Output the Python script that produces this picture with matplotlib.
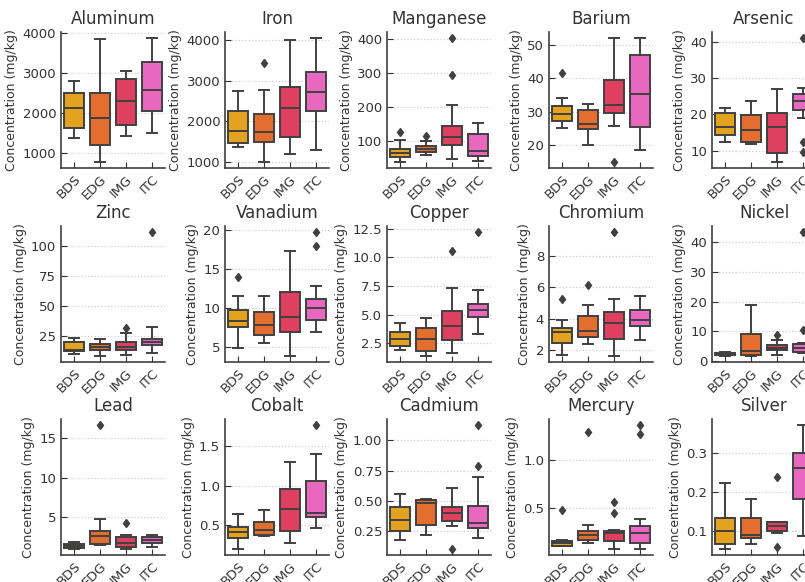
import matplotlib
matplotlib.use("Agg")
import matplotlib.pyplot as plt

# site groups and their colours
groups = ['BDS', 'EDG', 'IMG', 'ITC']
colors = ['#E3A21F', '#E36E30', '#E0405F', '#E768BE']

# (whisker low, Q1, median, Q3, whisker high) per group, mg/kg
aluminum = [(1376, 1636, 2122, 2491, 2801), (790, 1209, 1871, 2500, 3858),
            (1443, 1712, 2315, 2843, 3044), (1510, 2047, 2567, 3262, 3866)]
aluminum_out = [[], [], [], []]

iron = [(1358, 1467, 1750, 2250, 2758), (1000, 1500, 1725, 2175, 2775),
        (1192, 1608, 2333, 2842, 4008), (1300, 2250, 2733, 3208, 4050)]
iron_out = [[], [3442], [], []]

manganese = [(37, 52, 63, 75, 103), (57, 66, 76, 84, 98),
             (44, 88, 109, 144, 206), (38, 55, 69, 118, 153)]
manganese_out = [[126], [112], [295, 403], []]

barium = [(25.0, 27.1, 29.2, 31.6, 33.9), (20.0, 24.8, 26.4, 30.4, 32.4),
          (25.6, 29.7, 32.0, 39.3, 51.9), (18.4, 25.4, 35.2, 46.9, 51.9)]
barium_out = [[41.5], [], [15.0], []]

arsenic = [(12.5, 14.3, 16.5, 20.3, 21.8), (11.9, 12.4, 15.6, 19.8, 23.8),
           (6.9, 9.4, 16.5, 20.4, 27.1), (19.1, 21.2, 23.8, 25.6, 27.2)]
arsenic_out = [[], [], [], [41.0, 12.4, 9.5]]

zinc = [(9.7, 11.7, 12.8, 19.3, 23.3), (8.0, 13.1, 15.4, 18.2, 22.2),
        (9.1, 12.5, 15.4, 19.9, 27.0), (10.3, 17.1, 19.9, 22.4, 32.1)]
zinc_out = [[], [], [31.2], [111.6]]

vanadium = [(4.9, 7.6, 8.3, 9.7, 11.5), (5.6, 6.5, 7.9, 9.5, 11.6),
            (3.9, 7.0, 8.8, 12.0, 17.3), (6.9, 8.5, 10.0, 11.2, 12.8)]
vanadium_out = [[14.0], [], [], [17.9, 19.7]]

copper = [(1.94, 2.23, 2.88, 3.5, 4.24), (1.41, 1.82, 2.88, 3.83, 4.74),
          (1.64, 2.77, 3.97, 5.33, 7.3), (3.33, 4.83, 5.39, 5.92, 7.16)]
copper_out = [[], [], [10.55], [12.2]]

chromium = [(1.64, 2.42, 3.13, 3.37, 3.93), (2.35, 2.83, 3.19, 4.17, 4.88),
            (1.61, 2.70, 3.69, 4.39, 5.27), (2.61, 3.50, 3.89, 4.54, 5.42)]
chromium_out = [[5.25], [6.18], [9.54], []]

nickel = [(1.9, 2.0, 2.4, 2.8, 3.0), (1.8, 2.0, 3.4, 9.05, 18.7),
          (2.0, 3.7, 4.5, 5.3, 7.1), (2.8, 3.1, 4.4, 5.8, 6.1)]
nickel_out = [[], [], [8.7], [43.3, 10.4]]

lead = [(0.87, 1.0, 1.26, 1.48, 1.74), (1.39, 1.48, 2.56, 3.21, 4.68),
        (0.87, 1.13, 1.56, 2.34, 2.69), (1.04, 1.56, 2.0, 2.34, 2.69)]
lead_out = [[], [16.7], [4.12], []]

cobalt = [(0.195, 0.33, 0.41, 0.47, 0.633), (0.358, 0.376, 0.436, 0.543, 0.693),
          (0.27, 0.42, 0.70, 0.96, 1.30), (0.466, 0.60, 0.65, 1.06, 1.40)]
cobalt_out = [[], [], [], [1.77]]

cadmium = [(0.177, 0.25, 0.342, 0.449, 0.555), (0.219, 0.30, 0.485, 0.508, 0.515),
           (0.298, 0.334, 0.40, 0.451, 0.611), (0.194, 0.275, 0.32, 0.463, 0.70)]
cadmium_out = [[], [], [0.107], [1.126, 0.793]]

mercury = [(0.098, 0.098, 0.136, 0.157, 0.168), (0.129, 0.164, 0.213, 0.259, 0.322),
           (0.073, 0.15, 0.234, 0.26, 0.273), (0.073, 0.129, 0.234, 0.315, 0.388)]
mercury_out = [[0.475], [1.297], [0.563, 0.448], [1.364, 1.269]]

silver = [(0.056, 0.068, 0.101, 0.133, 0.222), (0.069, 0.083, 0.092, 0.133, 0.183),
          (0.095, 0.101, 0.114, 0.124, 0.125), (0.089, 0.183, 0.26, 0.299, 0.37)]
silver_out = [[], [], [0.239, 0.06], []]

panels = [
    ('Aluminum', aluminum, aluminum_out), ('Iron', iron, iron_out),
    ('Manganese', manganese, manganese_out), ('Barium', barium, barium_out),
    ('Arsenic', arsenic, arsenic_out),
    ('Zinc', zinc, zinc_out), ('Vanadium', vanadium, vanadium_out),
    ('Copper', copper, copper_out), ('Chromium', chromium, chromium_out),
    ('Nickel', nickel, nickel_out),
    ('Lead', lead, lead_out), ('Cobalt', cobalt, cobalt_out),
    ('Cadmium', cadmium, cadmium_out), ('Mercury', mercury, mercury_out),
    ('Silver', silver, silver_out),
]

W, H = 805, 582
fig = plt.figure(figsize=(W / 100, H / 100), dpi=100)

# axes placement in pixels (the right column runs off the picture)
lefts = [61, 225, 387, 549, 712]
tops = [32, 226, 419]
aw, ah = 104, 136
dark = '#404040'

for i, (name, five, out) in enumerate(panels):
    r, c = divmod(i, 5)
    ax = fig.add_axes([lefts[c] / W, (H - tops[r] - ah) / H, aw / W, ah / H])
    stats = []
    for g, s, f in zip(groups, five, out):
        stats.append(dict(label=g, whislo=s[0], q1=s[1], med=s[2], q3=s[3],
                          whishi=s[4], fliers=f))
    bp = ax.bxp(stats, positions=range(4), widths=0.78, patch_artist=True,
                boxprops=dict(edgecolor=dark, linewidth=1.4),
                medianprops=dict(color=dark, linewidth=1.4),
                whiskerprops=dict(color=dark, linewidth=1.4),
                capprops=dict(color=dark, linewidth=1.4),
                flierprops=dict(marker='d', markerfacecolor=dark,
                                markeredgecolor=dark, markersize=4.5))
    for patch, col in zip(bp['boxes'], colors):
        patch.set_facecolor(col)
    ax.set_xlim(-0.5, 3.5)
    ax.set_title(name, fontsize=12, color='#333333')
    ax.set_ylabel('Concentration (mg/kg)', fontsize=9, color='#333333', labelpad=3)
    ax.set_xticks(range(4))
    ax.set_xticklabels(groups, rotation=45, ha='right', rotation_mode='anchor')
    ax.tick_params(direction='in', length=4, labelsize=9.5, colors='#333333')
    ax.yaxis.grid(True, linestyle=':', color='#cccccc', linewidth=0.9)
    ax.set_axisbelow(True)
    for sp in ['top', 'right']:
        ax.spines[sp].set_visible(False)
    for sp in ['left', 'bottom']:
        ax.spines[sp].set_color(dark)
        ax.spines[sp].set_linewidth(1.2)

fig.savefig('out.png', dpi=100)
